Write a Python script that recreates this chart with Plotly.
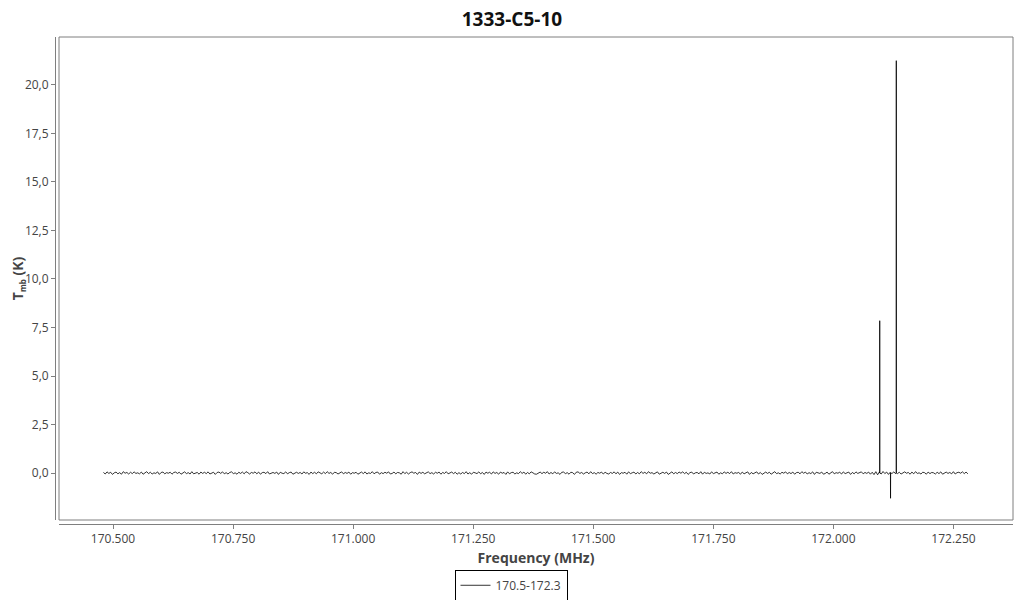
import numpy as np
import plotly.graph_objects as go

# ---- data ----
title_text = "1333-C5-10"
series_name = "170.5-172.3"
freq_start = 170.48   # MHz, first channel
freq_stop = 172.28    # MHz, last channel

# baseline noise (K), estimated from the band around 0
noise = [
    0.03, -0.05, 0.06, -0.02, 0.04, -0.07, 0.01, 0.05, -0.04, 0.02, -0.06, 0.07, -0.01, 0.03, -0.05, 0.04, -0.03, 0.06, -0.02, 0.01,
    -0.04, 0.05, -0.06, 0.02, 0.07, -0.03, 0.04, -0.05, 0.01, -0.02, 0.06, -0.07, 0.03, 0.05, -0.04, 0.02, -0.01, 0.04, -0.06, 0.03,
    0.05, -0.02, 0.04, -0.06, 0.01, 0.06, -0.03, 0.02, -0.05, 0.07, -0.04, 0.01, 0.03, -0.06, 0.05, -0.02, 0.04, -0.03, 0.06, -0.05,
    -0.01, 0.04, -0.07, 0.03, 0.05, -0.02, 0.06, -0.04, 0.02, -0.05, 0.03, 0.06, -0.03, 0.01, -0.06, 0.04, -0.02, 0.05, -0.04, 0.07,
    0.02, -0.05, 0.03, -0.01, 0.06, -0.04, 0.05, -0.06, 0.02, 0.04, -0.03, 0.07, -0.05, 0.01, 0.03, -0.02, 0.05, -0.07, 0.04, -0.01,
    -0.03, 0.06, -0.04, 0.02, 0.05, -0.06, 0.01, 0.04, -0.02, 0.03, -0.05, 0.06, -0.01, 0.02, -0.07, 0.05, -0.03, 0.04, -0.04, 0.06,
    0.01, -0.04, 0.05, -0.03, 0.07, -0.02, 0.03, -0.06, 0.04, 0.02, -0.05, 0.01, 0.06, -0.04, 0.03, -0.02, 0.05, -0.06, 0.02, -0.01,
    0.04, -0.06, 0.02, 0.05, -0.03, 0.06, -0.05, 0.01, -0.02, 0.07, -0.04, 0.03, 0.05, -0.06, 0.02, -0.03, 0.04, -0.01, 0.06, -0.05,
    -0.02, 0.05, -0.04, 0.03, 0.01, -0.06, 0.07, -0.03, 0.04, -0.05, 0.02, 0.06, -0.01, 0.03, -0.07, 0.05, -0.02, 0.04, -0.04, 0.01,
    0.06, -0.03, 0.02, -0.05, 0.04, -0.01, 0.05, -0.06, 0.03, -0.02, 0.07, -0.04, 0.01, 0.05, -0.03, 0.04, -0.06, 0.02, -0.05, 0.03,
    -0.03, 0.07, -0.05, 0.02, -0.06, 0.04, 0.01, -0.03, 0.06, -0.04, 0.03, -0.07, 0.05, -0.01, 0.04, -0.05, 0.06, -0.02, 0.03, -0.06,
    0.05, -0.01, 0.03, -0.07, 0.06, -0.04, 0.02, 0.04, -0.05, 0.01, -0.03, 0.07, -0.02, 0.05, -0.06, 0.03, -0.04, 0.06, 0.01, -0.05,
    -0.06, 0.02, 0.05, -0.03, 0.04, -0.01, 0.07, -0.05, 0.03, -0.04, 0.06, -0.02, 0.01, -0.07, 0.04, 0.05, -0.03, 0.02, -0.06, 0.04,
    0.02, -0.07, 0.04, 0.06, -0.02, 0.03, -0.05, 0.01, 0.05, -0.04, 0.07, -0.03, 0.02, -0.06, 0.03, -0.01, 0.05, -0.05, 0.04, -0.02,
    -0.05, 0.03, -0.02, 0.06, -0.04, 0.05, -0.07, 0.02, -0.01, 0.04, -0.06, 0.06, -0.03, 0.01, 0.05, -0.05, 0.03, -0.04, 0.07, -0.02,
    0.04, -0.04, 0.07, -0.01, 0.02, -0.05, 0.03, 0.06, -0.06, 0.01, 0.04, -0.02, 0.05, -0.07, 0.02, 0.06, -0.04, 0.03, -0.03, 0.05,
    -0.01, 0.06, -0.03, 0.04, -0.07, 0.02, 0.05, -0.05, 0.01, 0.03, -0.04, 0.07, -0.06, 0.04, -0.02, 0.01, -0.05, 0.06, -0.03, 0.02,
    0.05, -0.06, 0.01, -0.04, 0.06, -0.02, 0.04, -0.03, 0.07, -0.05, 0.02, -0.01, 0.03, -0.06, 0.05, -0.04, 0.02, 0.06, -0.07, 0.03,
    -0.04, 0.02, 0.06, -0.05, 0.03, -0.07, 0.01, 0.05, -0.02, 0.04, -0.06, 0.03, 0.07, -0.03, 0.01, -0.05, 0.04, -0.01, 0.06, -0.04,
    0.03, -0.03, 0.05, -0.06, 0.02, 0.04, -0.04, 0.07, -0.01, 0.05, -0.05, 0.02, -0.03, 0.06, -0.07, 0.04, 0.01, -0.02, 0.05, -0.06,
    -0.02, 0.05, -0.06, 0.03, 0.07, -0.04, 0.02, -0.01, 0.04, -0.05, 0.06, -0.03, 0.01, 0.05, -0.07, 0.03, -0.04, 0.06, -0.02, 0.04,
    0.06, -0.04, 0.03, -0.02, 0.05, -0.06, 0.04, -0.08, 0.07, -0.09, 0.06, -0.05, 0.08, -0.03, 0.05, -0.07, 0.04, -0.02, 0.06, -0.04,
    -0.03, 0.04, -0.05, 0.02, 0.06, -0.01, 0.03, -0.06, 0.05, -0.04, 0.07, -0.02, 0.01, -0.05, 0.04, 0.02, -0.06, 0.05, -0.03, 0.03,
    0.01, -0.05, 0.04, -0.03, 0.06, -0.06, 0.02, 0.05, -0.02, 0.03, -0.04, 0.07, -0.05, 0.02, 0.04, -0.01, 0.06, -0.03, 0.05, -0.04,
]

# spectral lines: frequency (MHz) and peak Tmb (K)
line_freqs = [172.0965, 172.119, 172.131]
line_peaks = [7.85, -1.30, 21.25]

x_tickvals = [170.5, 170.75, 171.0, 171.25, 171.5, 171.75, 172.0, 172.25]
x_ticktext = ["170.500", "170.750", "171.000", "171.250", "171.500", "171.750", "172.000", "172.250"]
y_tickvals = [0, 2.5, 5, 7.5, 10, 12.5, 15, 17.5, 20]

# ---- build spectrum ----
base_f = np.linspace(freq_start, freq_stop, len(noise))
f_all = list(base_f)
t_all = list(noise)
half = 0.0002
for f0, p in zip(line_freqs, line_peaks):
    f_all += [f0 - half, f0, f0 + half]
    t_all += [0.0, p, 0.0]
order = np.argsort(f_all)
f_all = np.array(f_all)[order]
t_all = np.array(t_all)[order]

fig = go.Figure()
fig.add_trace(go.Scatter(
    x=f_all, y=t_all, mode="lines", name=series_name,
    line=dict(color="black", width=0.8), showlegend=True,
))

axis_gray = "#7f7f7f"
font_fam = "Open Sans, sans-serif"

# page body adds an 8px offset, so the figure is 1016x592
fig.update_layout(
    width=1016, height=592,
    margin=dict(l=47, r=11, t=29, b=76, autoexpand=False),
    paper_bgcolor="white", plot_bgcolor="white",
    font=dict(family=font_fam, size=12, color="#444"),
    separators=",.",
    title=dict(text="<b>" + title_text + "</b>", x=0.496, xref="container", xanchor="center",
               y=0.981, yref="container", yanchor="middle", font=dict(size=19, color="#111", family=font_fam)),
    xaxis=dict(
        domain=[4 / 958, 1], range=[170.3875, 172.374],
        anchor="free", position=0, automargin=False,
        tickvals=x_tickvals, ticktext=x_ticktext,
        showline=True, linecolor=axis_gray, linewidth=1,
        ticks="outside", ticklen=4, tickcolor=axis_gray,
        showgrid=False, zeroline=False,
        title=dict(text="<b>Frequency (MHz)</b>", font=dict(size=14, color="#444"), standoff=6),
    ),
    yaxis=dict(
        domain=[4 / 487, 1], range=[-2.42, 22.47],
        anchor="free", position=0, automargin=False,
        tickvals=y_tickvals, tickformat=".1f",
        showline=True, linecolor=axis_gray, linewidth=1,
        ticks="outside", ticklen=4, tickcolor=axis_gray,
        showgrid=False, zeroline=False,
        title=dict(text="<b>T<sub><span style='font-size:8px'>mb</span></sub> (K)</b>",
                   font=dict(size=14, color="#444"), standoff=12),
    ),
    legend=dict(orientation="h", x=0.476, xanchor="center", y=-0.094, yanchor="top",
                bordercolor="black", borderwidth=1, font=dict(size=12, color="#444")),
    shapes=[dict(type="rect", xref="x domain", yref="y domain", x0=0, x1=1, y0=0, y1=1,
                 line=dict(color=axis_gray, width=1), layer="below")],
)

fig.write_html("out.html")
